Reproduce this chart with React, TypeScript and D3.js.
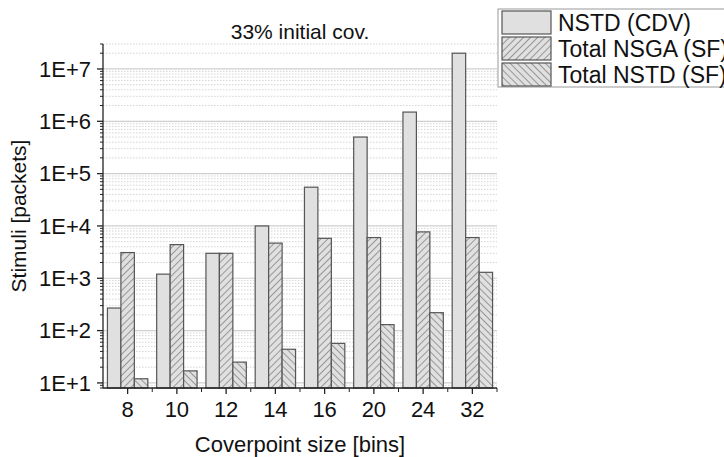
import React from 'react';
import * as d3 from 'd3';

const categories = ['8', '10', '12', '14', '16', '20', '24', '32'];
const seriesNames = ['NSTD (CDV)', 'Total NSGA (SF)', 'Total NSTD (SF)'];
const nstdCdv = [270, 1200, 3000, 10000, 55000, 500000, 1500000, 20000000];
const nsgaSf = [3100, 4400, 3000, 4700, 5800, 6000, 7700, 6000];
const nstdSf = [12, 17, 25, 44, 57, 130, 220, 1300];
const yTickExps = [1, 2, 3, 4, 5, 6, 7];

const W = 724;
const H = 457;
const margin = { top: 44, right: 227, bottom: 69, left: 103 };
const font = 'Liberation Sans, Arial, sans-serif';
const fills = ['url(#solid)', 'url(#hatchF)', 'url(#hatchB)'];

export default function App() {
  const series = [nstdCdv, nsgaSf, nstdSf];

  const x = d3.scaleBand<string>()
    .domain(categories)
    .range([margin.left, W - margin.right])
    .paddingInner(0.18)
    .paddingOuter(0.09);

  // band without padding, for tick positions at category edges
  const xFull = d3.scaleBand<string>()
    .domain(categories)
    .range([margin.left, W - margin.right]);

  const xs = d3.scaleBand<number>()
    .domain([0, 1, 2])
    .range([0, x.bandwidth()]);

  const y = d3.scaleLog()
    .domain([8, 3e7])
    .range([H - margin.bottom, margin.top]);

  const allTicks = y.ticks();
  const isMajor = (t: number) => Math.abs(Math.log10(t) - Math.round(Math.log10(t))) < 1e-9;
  const minorTicks = allTicks.filter(t => !isMajor(t));

  const x0 = margin.left;
  const x1 = W - margin.right;
  const yb = H - margin.bottom;

  return (
    <svg width={W} height={H} style={{ position: 'absolute', left: 0, top: 0, background: '#fff' }}
      fontFamily={font}>
      <defs>
        <pattern id="solid" patternUnits="userSpaceOnUse" width={5} height={5}>
          <rect width={5} height={5} fill="#e0e0e0" />
        </pattern>
        <pattern id="hatchF" patternUnits="userSpaceOnUse" width={5} height={5} patternTransform="rotate(45)">
          <rect width={5} height={5} fill="#e0e0e0" />
          <line x1={0} y1={0} x2={0} y2={5} stroke="#666" strokeWidth={1.2} />
        </pattern>
        <pattern id="hatchB" patternUnits="userSpaceOnUse" width={5} height={5} patternTransform="rotate(-45)">
          <rect width={5} height={5} fill="#e0e0e0" />
          <line x1={0} y1={0} x2={0} y2={5} stroke="#666" strokeWidth={1.2} />
        </pattern>
      </defs>

      {/* grid */}
      {minorTicks.map((t, i) => (
        <line key={'mg' + i} x1={x0} x2={x1} y1={y(t)} y2={y(t)}
          stroke="#d4d4d4" strokeWidth={1} strokeDasharray="1.5,1.5" />
      ))}
      {yTickExps.map(e => (
        <line key={'Mg' + e} x1={x0} x2={x1} y1={y(10 ** e)} y2={y(10 ** e)}
          stroke="#cfcfcf" strokeWidth={1.2} />
      ))}

      {/* bars */}
      {categories.map((c, ci) => (
        <g key={c} transform={`translate(${x(c)},0)`}>
          {series.map((s, si) => (
            <rect key={si} x={xs(si)} width={xs.bandwidth()} y={y(s[ci])}
              height={yb - y(s[ci])} fill={fills[si]} stroke="#555" strokeWidth={1.2} />
          ))}
        </g>
      ))}

      {/* y axis */}
      <line x1={x0} x2={x0} y1={margin.top} y2={yb} stroke="#222" strokeWidth={1.3} />
      {minorTicks.map((t, i) => (
        <line key={'mt' + i} x1={x0 - 3} x2={x0} y1={y(t)} y2={y(t)} stroke="#222" strokeWidth={1} />
      ))}
      {yTickExps.map(e => (
        <g key={'yt' + e}>
          <line x1={x0 - 6} x2={x0} y1={y(10 ** e)} y2={y(10 ** e)} stroke="#222" strokeWidth={1.3} />
          <text x={x0 - 12} y={y(10 ** e)} dy="0.35em" textAnchor="end" fontSize={22} fill="#111">
            {'1E+' + e}
          </text>
        </g>
      ))}

      {/* x axis */}
      <line x1={x0} x2={x1} y1={yb} y2={yb} stroke="#222" strokeWidth={1.3} />
      {categories.map(c => (
        <g key={'xt' + c}>
          <line x1={xFull(c)! + xFull.bandwidth() / 2} x2={xFull(c)! + xFull.bandwidth() / 2}
            y1={yb} y2={yb + 6} stroke="#222" strokeWidth={1.3} />
          <line x1={xFull(c)! + xFull.bandwidth()} x2={xFull(c)! + xFull.bandwidth()}
            y1={yb} y2={yb + 4} stroke="#222" strokeWidth={1} />
          <text x={xFull(c)! + xFull.bandwidth() / 2} y={yb + 29} textAnchor="middle"
            fontSize={22} fill="#111">{c}</text>
        </g>
      ))}

      {/* titles */}
      <text x={(x0 + x1) / 2} y={39} textAnchor="middle" fontSize={21} fill="#111">33% initial cov.</text>
      <text x={(x0 + x1) / 2} y={452} textAnchor="middle" fontSize={22} fill="#111">Coverpoint size [bins]</text>
      <text transform={`translate(26,${(margin.top + yb) / 2}) rotate(-90)`} textAnchor="middle"
        fontSize={21} fill="#111">Stimuli [packets]</text>

      {/* legend */}
      <rect x={498} y={9} width={260} height={78} fill="#fff" stroke="#999" strokeWidth={1} />
      {seriesNames.map((n, i) => (
        <g key={n} transform={`translate(502,${11 + i * 26})`}>
          <rect x={0} y={0} width={49} height={23} fill={fills[i]} stroke="#555" strokeWidth={1.2} />
          <text x={56} y={12} dy="0.35em" fontSize={23} fill="#111">{n}</text>
        </g>
      ))}
    </svg>
  );
}
